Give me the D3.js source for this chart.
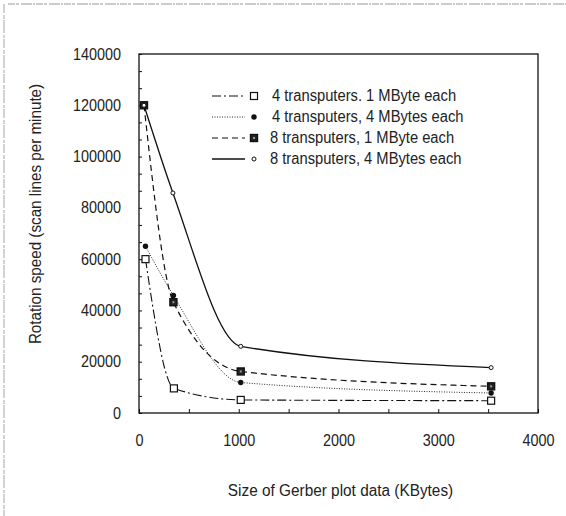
<!DOCTYPE html>
<html>
<head>
<meta charset="utf-8">
<script src="https://cdn.jsdelivr.net/npm/d3@7"></script>
<style>
  body { margin: 0; background: #fff; }
  text { font-family: "Liberation Sans", Arial, Helvetica, sans-serif; fill: #222; }
</style>
</head>
<body>
<div id="chart"></div>
<script>
// data
const seriesNames = [
  "4 transputers. 1 MByte each",
  "4 transputers, 4 MBytes each",
  "8 transputers, 1 MByte each",
  "8 transputers, 4 MBytes each"
];
const sizes1 = [65, 350, 1020, 3530];
const speeds1 = [60000, 9600, 5100, 4800];
const sizes2 = [65, 345, 1020, 3530];
const speeds2 = [65000, 45800, 11900, 7800];
const sizes3 = [50, 345, 1020, 3530];
const speeds3 = [120000, 43200, 16200, 10400];
const sizes4 = [50, 340, 1020, 3530];
const speeds4 = [120000, 85800, 26000, 17700];
const xTicks = [0, 1000, 2000, 3000, 4000];
const yTicks = [0, 20000, 40000, 60000, 80000, 100000, 120000, 140000];

const margin = { top: 54, right: 28, bottom: 103, left: 139 },
    width = 566 - margin.left - margin.right,
    height = 516 - margin.top - margin.bottom;

// squeeze text a bit to look like the narrow face in the scan
function narrow(sel, k) {
  sel.each(function () {
    const len = this.getComputedTextLength();
    d3.select(this).attr("textLength", len * k).attr("lengthAdjust", "spacingAndGlyphs");
  });
}

const root = d3.select("#chart")
    .append("svg")
    .attr("width", 566)
    .attr("height", 516);

// faint scan edges
root.append("line").attr("x1", 8).attr("x2", 566).attr("y1", 4).attr("y2", 4)
    .attr("stroke", "#bbb").attr("stroke-width", 1.5).attr("stroke-dasharray", "7,1,3,2,11,1,2,1");
root.append("line").attr("x1", 4).attr("x2", 4).attr("y1", 4).attr("y2", 516)
    .attr("stroke", "#c4c4c4").attr("stroke-width", 1.5).attr("stroke-dasharray", "9,2,4,1,13,2,3,1");

const svg = root.append("g")
    .attr("transform", `translate(${margin.left}, ${margin.top})`);

const x = d3.scaleLinear().domain([0, 4000]).range([0, width]);
const y = d3.scaleLinear().domain([0, 140000]).range([height, 0]);

// frame
svg.append("rect")
    .attr("width", width).attr("height", height)
    .attr("fill", "none").attr("stroke", "#111").attr("stroke-width", 1.3);

// bottom axis, ticks inward
const xAxis = svg.append("g")
    .attr("transform", `translate(0, ${height})`)
    .call(d3.axisBottom(x).tickValues(d3.range(0, 4001, 500)).tickSize(-4).tickFormat(""));
xAxis.select(".domain").remove();
svg.append("g")
    .attr("transform", `translate(0, ${height})`)
    .call(d3.axisBottom(x).tickValues(xTicks).tickSize(0).tickPadding(22).tickFormat(d3.format("d")))
    .call(g => g.select(".domain").remove())
    .selectAll("text").attr("font-size", 16).call(narrow, 0.9);

// left axis, ticks inward
const yAxis = svg.append("g")
    .call(d3.axisLeft(y).tickValues(d3.range(0, 140001, 20000 / 3)).tickSize(-3).tickFormat(""));
yAxis.select(".domain").remove();
svg.append("g")
    .call(d3.axisLeft(y).tickValues(yTicks).tickSize(0).tickPadding(18).tickFormat(d3.format("d")))
    .call(g => g.select(".domain").remove())
    .selectAll("text").attr("font-size", 16).call(narrow, 0.9);

svg.selectAll(".tick line").attr("stroke", "#111");

// axis titles
svg.append("text")
    .attr("x", width / 2 + 2).attr("y", height + 83)
    .attr("text-anchor", "middle").attr("font-size", 16)
    .text("Size of Gerber plot data (KBytes)")
    .call(narrow, 0.96);
svg.append("text")
    .attr("transform", `translate(${-98}, ${160}) rotate(-90)`)
    .attr("text-anchor", "middle").attr("font-size", 16)
    .text("Rotation speed (scan lines per minute)")
    .call(narrow, 0.95);

const series = [
  { name: seriesNames[0], xs: sizes1, ys: speeds1, dash: "9,3,2,3", w: 1.1, marker: "openSquare" },
  { name: seriesNames[1], xs: sizes2, ys: speeds2, dash: "1,1.5", w: 0.9, marker: "dot" },
  { name: seriesNames[2], xs: sizes3, ys: speeds3, dash: "6,4", w: 1.2, marker: "fillSquare" },
  { name: seriesNames[3], xs: sizes4, ys: speeds4, dash: null, w: 1.3, marker: "openCircle" }
];

const line = d3.line()
    .x(d => x(d[0]))
    .y(d => y(d[1]))
    .curve(d3.curveMonotoneX);

function drawMarker(g, kind, cx, cy) {
  if (kind === "openSquare") {
    g.append("rect").attr("x", cx - 3.5).attr("y", cy - 3.5).attr("width", 7).attr("height", 7)
      .attr("fill", "#fff").attr("stroke", "#111").attr("stroke-width", 1.2);
  } else if (kind === "dot") {
    g.append("circle").attr("cx", cx).attr("cy", cy).attr("r", 2.7).attr("fill", "#111");
  } else if (kind === "fillSquare") {
    g.append("rect").attr("x", cx - 3.5).attr("y", cy - 3.5).attr("width", 7).attr("height", 7)
      .attr("fill", "#222").attr("stroke", "#111").attr("stroke-width", 1.4);
    g.append("rect").attr("x", cx - 1).attr("y", cy - 1).attr("width", 2).attr("height", 2)
      .attr("fill", "#999");
  } else {
    g.append("circle").attr("cx", cx).attr("cy", cy).attr("r", 2).attr("fill", "#fff")
      .attr("stroke", "#111").attr("stroke-width", 1);
  }
}

series.forEach(s => {
  const pts = s.xs.map((v, i) => [v, s.ys[i]]);
  svg.append("path")
      .datum(pts)
      .attr("d", line)
      .attr("fill", "none")
      .attr("stroke", "#111")
      .attr("stroke-width", s.w)
      .attr("stroke-dasharray", s.dash);
  const mg = svg.append("g");
  pts.forEach(p => drawMarker(mg, s.marker, x(p[0]), y(p[1])));
});

// legend
const legend = svg.append("g").attr("transform", "translate(73, 41)");
series.forEach((s, i) => {
  const ly = i * 21;
  legend.append("line")
      .attr("x1", 0).attr("x2", 33).attr("y1", ly + 1).attr("y2", ly + 1)
      .attr("stroke", "#111").attr("stroke-width", s.w)
      .attr("stroke-dasharray", s.dash);
  drawMarker(legend, s.marker, 42, ly + 1);
  legend.append("text")
      .attr("x", i < 2 ? 60 : 58).attr("y", ly).attr("dy", "0.35em")
      .attr("font-size", 16)
      .text(s.name)
      .call(narrow, 0.92);
});
</script>
</body>
</html>
